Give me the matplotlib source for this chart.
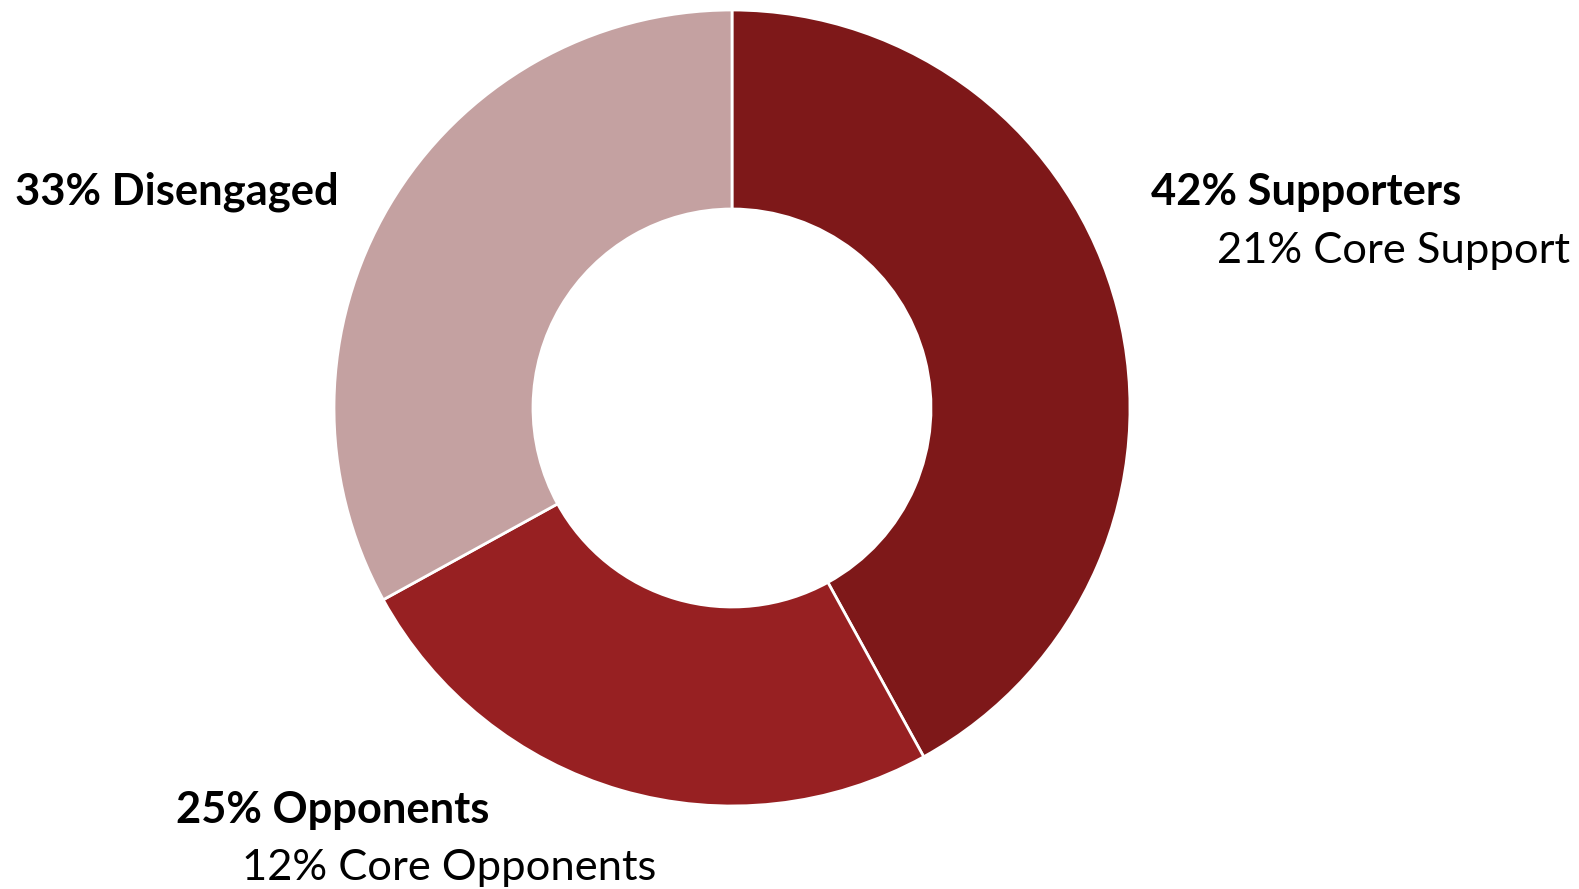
import matplotlib.pyplot as plt

labels = ["Supporters", "Opponents", "Disengaged"]
shares = [42, 25, 33]
colors = ["#7e1819", "#972022", "#c4a1a1"]

W, H = 1579, 889
fig = plt.figure(figsize=(W / 100, H / 100), dpi=100)
ax = fig.add_axes([0, 0, 1, 1])

ax.pie(shares, colors=colors, startangle=90, counterclock=False,
       center=(732, H - 408), radius=398,
       wedgeprops=dict(width=199, edgecolor="white", linewidth=2))

ax.set_xlim(0, W)
ax.set_ylim(0, H)
ax.set_aspect("equal")
ax.axis("off")

font = ["Lato", "DejaVu Sans"]
ax.text(1151, H - 205, "42% Supporters", fontsize=31.3, fontweight="bold", family=font)
ax.text(1217, H - 263, "21% Core Support", fontsize=31.3, family=font)
ax.text(15, H - 205, "33% Disengaged", fontsize=31.3, fontweight="bold", family=font)
ax.text(176, H - 823, "25% Opponents", fontsize=31.3, fontweight="bold", family=font)
ax.text(242, H - 880, "12% Core Opponents", fontsize=31.3, family=font)

fig.savefig("out.png", dpi=100)
